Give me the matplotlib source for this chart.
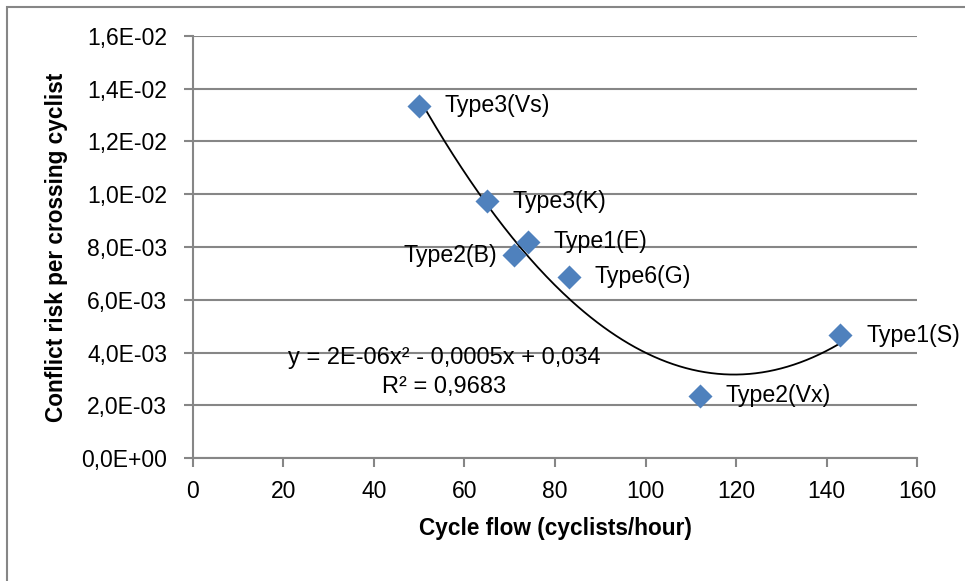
import matplotlib.pyplot as plt
import numpy as np
from matplotlib.patches import Rectangle
from matplotlib.ticker import FuncFormatter

plt.rcParams['font.family'] = ['Liberation Sans', 'DejaVu Sans']

# cycle flow (cyclists/hour) and conflict risk per crossing cyclist
labels = ['Type3(Vs)', 'Type3(K)', 'Type1(E)', 'Type2(B)', 'Type6(G)', 'Type1(S)', 'Type2(Vx)']
flow = [50, 65, 74, 71, 83, 143, 112]
risk = [0.01334, 0.00974, 0.0082, 0.00768, 0.00687, 0.00466, 0.00236]

blue = '#4F81BD'
grey = '#868686'

fig = plt.figure(figsize=(9.65, 5.81), dpi=100)
ax = fig.add_axes([0.1997, 0.2112, 0.7509, 0.7274])

# second order trendline
coef = np.polyfit(flow, risk, 2)
xs = np.linspace(min(flow), max(flow), 200)
ax.plot(xs, np.polyval(coef, xs), color='black', lw=1.3, zorder=3)

ax.scatter(flow, risk, marker='D', s=150, color=blue, zorder=4, linewidths=0)

for name, x, y in zip(labels, flow, risk):
    if name == 'Type2(B)':
        ax.annotate(name, (x, y), xytext=(-12, 0), textcoords='offset points',
                    ha='right', va='center', fontsize=16.7)
    else:
        ax.annotate(name, (x, y), xytext=(18.5, 0), textcoords='offset points',
                    ha='left', va='center', fontsize=16.7)

ax.text(55.5, 0.0038, 'y = 2E-06x² - 0,0005x + 0,034', ha='center', va='center', fontsize=17)
ax.text(55.5, 0.0027, 'R² = 0,9683', ha='center', va='center', fontsize=17)

ax.set_xlim(0, 160)
ax.set_ylim(0, 0.016)
ax.set_xticks(np.arange(0, 161, 20))
ax.set_yticks(np.arange(0, 0.0161, 0.002))
ax.yaxis.set_major_formatter(FuncFormatter(lambda v, p: ('%.1E' % v).replace('.', ',')))

ax.grid(axis='y', color=grey, lw=1.5)
ax.set_axisbelow(True)
for s in ['top', 'right']:
    ax.spines[s].set_visible(False)
for s in ['left', 'bottom']:
    ax.spines[s].set_color(grey)
    ax.spines[s].set_linewidth(1.5)
ax.tick_params(axis='both', colors=grey, width=1.5, length=6.5, labelsize=16.5, labelcolor='black')
ax.tick_params(axis='y', pad=12)
ax.tick_params(axis='x', pad=9)

ax.set_xlabel('Cycle flow (cyclists/hour)', fontsize=16.3, fontweight='bold')
ax.set_ylabel('Conflict risk per crossing cyclist', fontsize=16.3, fontweight='bold')
ax.xaxis.set_label_coords(0.5, -0.138)
ax.yaxis.set_label_coords(-0.172, 0.5)

# chart area border (cut off at right and bottom)
fig.patches.append(Rectangle((7 / 965, -0.2), 1.2, 1.2 - 6.5 / 581, transform=fig.transFigure,
                             fill=False, edgecolor=grey, lw=1.5))

fig.savefig('out.png', dpi=100)
